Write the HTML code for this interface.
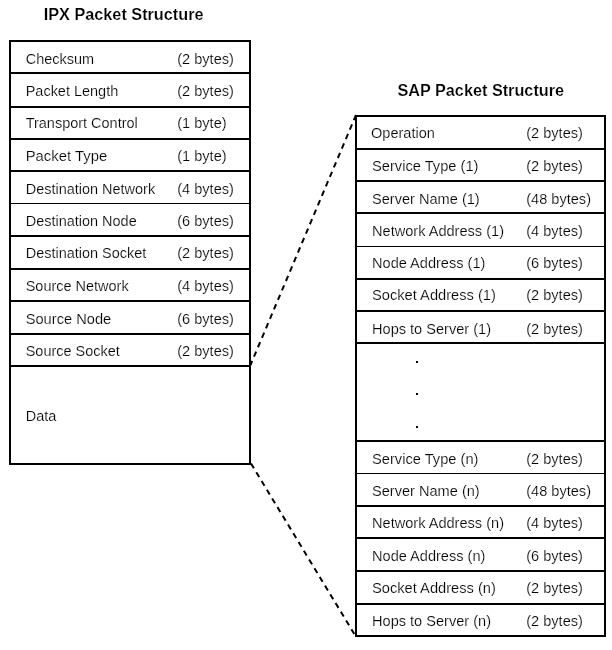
<!DOCTYPE html>
<html><head><meta charset="utf-8"><title>IPX / SAP Packet Structure</title>
<style>html,body{margin:0;padding:0;background:#fff}body{width:612px;height:650px;overflow:hidden}svg{display:block;filter:grayscale(1)}text{font-family:"Liberation Sans",sans-serif;fill:#000}.t{font-size:15.4px;stroke:#fff;stroke-width:0.2px;paint-order:fill stroke}.h{font-size:17px;font-weight:bold;stroke:#fff;stroke-width:0.2px;paint-order:fill stroke}</style></head><body>
<svg width="612" height="650" viewBox="0 0 612 650">
<rect width="612" height="650" fill="#fff"/>
<rect x="9" y="40" width="242" height="2" fill="#000"/>
<rect x="9" y="72" width="242" height="2" fill="#000"/>
<rect x="9" y="106" width="242" height="2" fill="#000"/>
<rect x="9" y="138" width="242" height="2" fill="#000"/>
<rect x="9" y="170" width="242" height="2" fill="#000"/>
<rect x="9" y="203" width="242" height="1" fill="#000"/>
<rect x="9" y="235" width="242" height="2" fill="#000"/>
<rect x="9" y="268" width="242" height="2" fill="#000"/>
<rect x="9" y="300" width="242" height="2" fill="#000"/>
<rect x="9" y="333" width="242" height="2" fill="#000"/>
<rect x="9" y="365" width="242" height="2" fill="#000"/>
<rect x="9" y="463" width="242" height="2" fill="#000"/>
<rect x="9" y="40" width="2" height="425" fill="#000"/>
<rect x="249" y="40" width="2" height="425" fill="#000"/>
<text class="t" transform="translate(25.7,64) scale(0.94,1)">Checksum</text>
<text class="t" transform="translate(177.2,64) scale(0.947,1)">(2 bytes)</text>
<text class="t" transform="translate(25.7,96) scale(0.94,1)">Packet Length</text>
<text class="t" transform="translate(177.2,96) scale(0.947,1)">(2 bytes)</text>
<text class="t" transform="translate(25.7,128) scale(0.94,1)">Transport Control</text>
<text class="t" transform="translate(177.2,128) scale(0.947,1)">(1 byte)</text>
<text class="t" transform="translate(25.7,161) scale(0.965,1)">Packet Type</text>
<text class="t" transform="translate(177.2,161) scale(0.947,1)">(1 byte)</text>
<text class="t" transform="translate(25.7,194) scale(0.94,1)">Destination Network</text>
<text class="t" transform="translate(177.2,194) scale(0.947,1)">(4 bytes)</text>
<text class="t" transform="translate(25.7,226) scale(0.94,1)">Destination Node</text>
<text class="t" transform="translate(177.2,226) scale(0.947,1)">(6 bytes)</text>
<text class="t" transform="translate(25.7,258) scale(0.94,1)">Destination Socket</text>
<text class="t" transform="translate(177.2,258) scale(0.947,1)">(2 bytes)</text>
<text class="t" transform="translate(25.7,291) scale(0.94,1)">Source Network</text>
<text class="t" transform="translate(177.2,291) scale(0.947,1)">(4 bytes)</text>
<text class="t" transform="translate(25.7,324) scale(0.952,1)">Source Node</text>
<text class="t" transform="translate(177.2,324) scale(0.947,1)">(6 bytes)</text>
<text class="t" transform="translate(25.7,356) scale(0.94,1)">Source Socket</text>
<text class="t" transform="translate(177.2,356) scale(0.947,1)">(2 bytes)</text>
<text class="t" transform="translate(25.7,421) scale(0.94,1)">Data</text>
<rect x="355" y="115" width="251" height="2" fill="#000"/>
<rect x="355" y="148" width="251" height="2" fill="#000"/>
<rect x="355" y="180" width="251" height="2" fill="#000"/>
<rect x="355" y="212" width="251" height="2" fill="#000"/>
<rect x="355" y="246" width="251" height="1" fill="#000"/>
<rect x="355" y="278" width="251" height="2" fill="#000"/>
<rect x="355" y="310" width="251" height="2" fill="#000"/>
<rect x="355" y="342" width="251" height="2" fill="#000"/>
<rect x="355" y="440" width="251" height="2" fill="#000"/>
<rect x="355" y="473" width="251" height="1" fill="#000"/>
<rect x="355" y="505" width="251" height="2" fill="#000"/>
<rect x="355" y="537" width="251" height="2" fill="#000"/>
<rect x="355" y="570" width="251" height="2" fill="#000"/>
<rect x="355" y="603" width="251" height="2" fill="#000"/>
<rect x="355" y="635" width="251" height="2" fill="#000"/>
<rect x="355" y="115" width="2" height="522" fill="#000"/>
<rect x="604" y="115" width="2" height="522" fill="#000"/>
<text class="t" transform="translate(371,138) scale(0.945,1)">Operation</text>
<text class="t" transform="translate(526.2,138) scale(0.947,1)">(2 bytes)</text>
<text class="t" transform="translate(372,171) scale(0.953,1)">Service Type (1)</text>
<text class="t" transform="translate(526.2,171) scale(0.947,1)">(2 bytes)</text>
<text class="t" transform="translate(372,204) scale(0.947,1)">Server Name (1)</text>
<text class="t" transform="translate(526.2,204) scale(0.947,1)">(48 bytes)</text>
<text class="t" transform="translate(372,236) scale(0.947,1)">Network Address (1)</text>
<text class="t" transform="translate(526.2,236) scale(0.947,1)">(4 bytes)</text>
<text class="t" transform="translate(372,268) scale(0.947,1)">Node Address (1)</text>
<text class="t" transform="translate(526.2,268) scale(0.947,1)">(6 bytes)</text>
<text class="t" transform="translate(372,300) scale(0.953,1)">Socket Address (1)</text>
<text class="t" transform="translate(526.2,300) scale(0.947,1)">(2 bytes)</text>
<text class="t" transform="translate(372,334) scale(0.947,1)">Hops to Server (1)</text>
<text class="t" transform="translate(526.2,334) scale(0.947,1)">(2 bytes)</text>
<text class="t" transform="translate(372,464) scale(0.953,1)">Service Type (n)</text>
<text class="t" transform="translate(526.2,464) scale(0.947,1)">(2 bytes)</text>
<text class="t" transform="translate(372,496) scale(0.947,1)">Server Name (n)</text>
<text class="t" transform="translate(526.2,496) scale(0.947,1)">(48 bytes)</text>
<text class="t" transform="translate(372,528) scale(0.947,1)">Network Address (n)</text>
<text class="t" transform="translate(526.2,528) scale(0.947,1)">(4 bytes)</text>
<text class="t" transform="translate(372,561) scale(0.947,1)">Node Address (n)</text>
<text class="t" transform="translate(526.2,561) scale(0.947,1)">(6 bytes)</text>
<text class="t" transform="translate(372,593) scale(0.953,1)">Socket Address (n)</text>
<text class="t" transform="translate(526.2,593) scale(0.947,1)">(2 bytes)</text>
<text class="t" transform="translate(372,626) scale(0.947,1)">Hops to Server (n)</text>
<text class="t" transform="translate(526.2,626) scale(0.947,1)">(2 bytes)</text>
<rect x="416" y="361" width="2" height="2" fill="#000"/>
<rect x="416" y="393" width="2" height="2" fill="#000"/>
<rect x="416" y="426" width="2" height="2" fill="#000"/>
<text class="h" transform="translate(43.7,20) scale(0.956,1)">IPX Packet Structure</text>
<text class="h" transform="translate(397.4,96) scale(0.955,1)">SAP Packet Structure</text>
<line x1="356" y1="115" x2="250.5" y2="365" stroke="#000" stroke-width="2" stroke-dasharray="5.6 4.67"/>
<line x1="251" y1="463.5" x2="355.5" y2="636" stroke="#000" stroke-width="2" stroke-dasharray="5.6 4.6"/>
</svg></body></html>
